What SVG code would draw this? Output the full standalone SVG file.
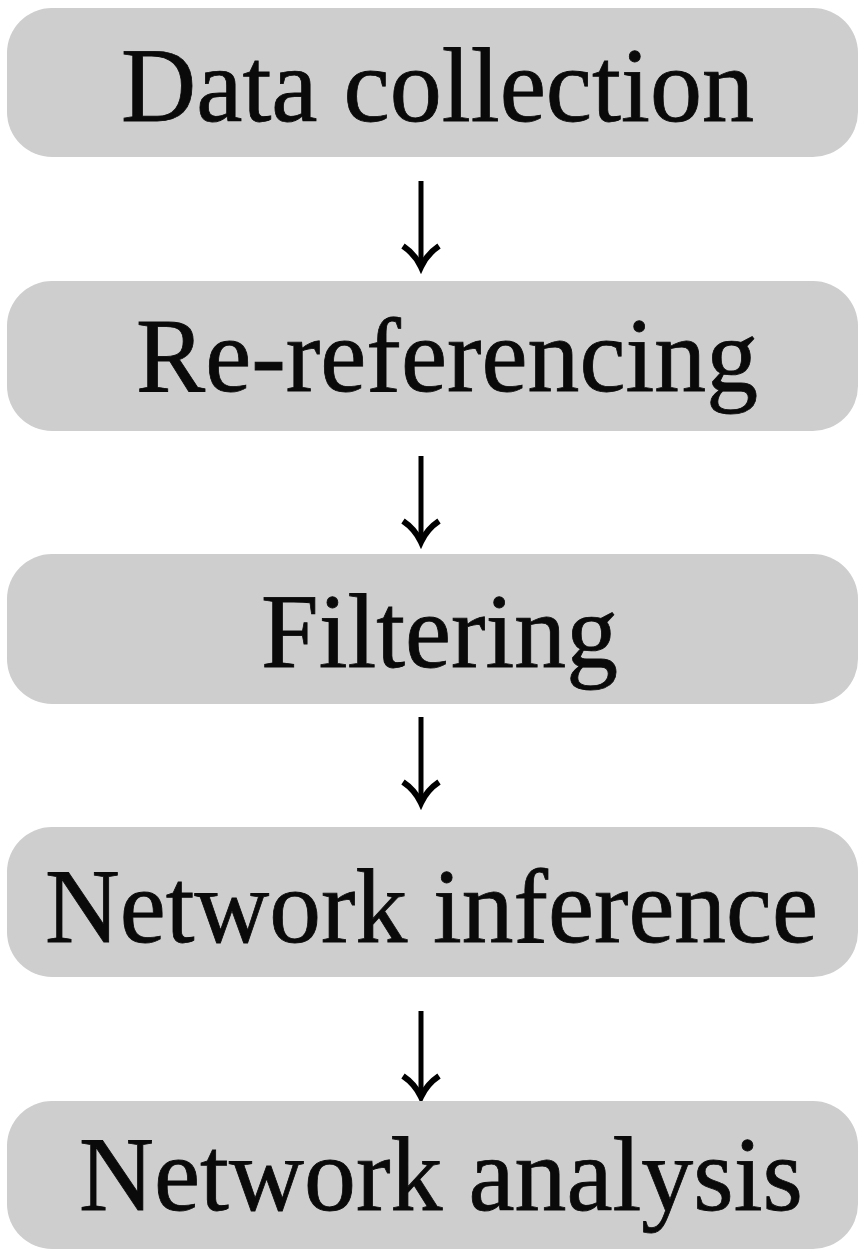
<svg xmlns="http://www.w3.org/2000/svg" xmlns:xlink="http://www.w3.org/1999/xlink" width="865" height="1260" viewBox="0 0 865 1260">
  <style>
    .box { fill: #cecece; }
    .lbl { font-family: "Liberation Serif", "Times New Roman", serif; font-size: 106px; fill: #0a0a0a; stroke: #0a0a0a; stroke-width: 0.8; }
    .shaft { stroke: #000; stroke-width: 5; fill: none; }
    .head { stroke: #000; stroke-width: 6; fill: none; stroke-linejoin: miter; stroke-linecap: butt; }
  </style>
  <defs>
    <g id="arrow">
      <line class="shaft" x1="0" y1="0" x2="0" y2="84"/>
      <path class="head" d="M-18,65 Q-6,73 0,86 Q6,73 18,65"/>
    </g>
  </defs>
  <rect width="865" height="1260" fill="#fff"/>
  <g id="connectors">
    <use xlink:href="#arrow" transform="translate(421,181)"/>
    <use xlink:href="#arrow" transform="translate(421,456)"/>
    <use xlink:href="#arrow" transform="translate(421,717)"/>
    <use xlink:href="#arrow" transform="translate(421,1011)"/>
  </g>
  <g id="node1">
    <rect class="box" x="7" y="8" width="851" height="149" rx="45" ry="45"/>
    <text class="lbl" x="121" y="121" textLength="633" lengthAdjust="spacingAndGlyphs">Data collection</text>
  </g>
  <g id="node2">
    <rect class="box" x="7" y="281" width="851" height="150" rx="45" ry="45"/>
    <text class="lbl" x="136" y="391" textLength="622" lengthAdjust="spacingAndGlyphs">Re-referencing</text>
  </g>
  <g id="node3">
    <rect class="box" x="7" y="554" width="851" height="150" rx="45" ry="45"/>
    <text class="lbl" x="261" y="667" textLength="357" lengthAdjust="spacingAndGlyphs">Filtering</text>
  </g>
  <g id="node4">
    <rect class="box" x="7" y="827" width="851" height="150" rx="45" ry="45"/>
    <text class="lbl" x="45" y="942" textLength="773" lengthAdjust="spacingAndGlyphs">Network inference</text>
  </g>
  <g id="node5">
    <rect class="box" x="7" y="1101" width="851" height="148" rx="45" ry="45"/>
    <text class="lbl" x="79" y="1210" textLength="724" lengthAdjust="spacingAndGlyphs">Network analysis</text>
  </g>
</svg>
